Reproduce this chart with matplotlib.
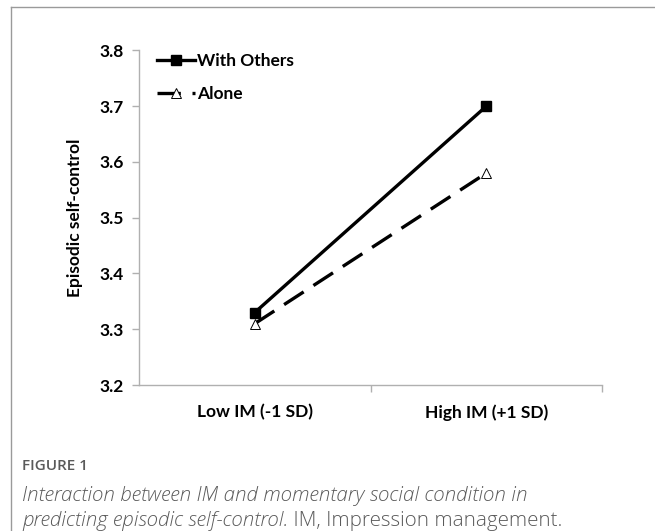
import matplotlib
matplotlib.use("Agg")
import matplotlib.pyplot as plt
from matplotlib.lines import Line2D

categories = ["Low IM (-1 SD)", "High IM (+1 SD)"]
with_others = [3.33, 3.70]
alone = [3.31, 3.58]
y_ticks = [3.2, 3.3, 3.4, 3.5, 3.6, 3.7, 3.8]
series_names = ["With Others", "Alone"]

W, H = 655, 531
fig = plt.figure(figsize=(W / 100, H / 100), dpi=100)
fig.patch.set_facecolor("white")

# outer frame lines (left and top)
fig.add_artist(Line2D([11 / W, 11 / W], [0, 1 - 7 / H], color="#9a9a9a", lw=1.0))
fig.add_artist(Line2D([11 / W, 1], [1 - 7 / H, 1 - 7 / H], color="#9a9a9a", lw=1.0))

ax = fig.add_axes([139 / W, 1 - 385 / H, (602 - 139) / W, (385 - 50.5) / H])
x = list(range(len(categories)))
ax.plot(x, with_others, color="black", lw=2.4, marker="s", markersize=7.5,
        markerfacecolor="black", markeredgecolor="black", label=series_names[0])
ax.plot(x, alone, color="black", lw=2.4, dashes=(7, 3.5), marker="^", markersize=7,
        markerfacecolor="white", markeredgecolor="black", markeredgewidth=0.7,
        label=series_names[1])

ax.set_xlim(-0.5, len(categories) - 0.5)
ax.set_ylim(y_ticks[0], y_ticks[-1])
ax.set_yticks(y_ticks)
ax.set_yticklabels([f"{t:.1f}" for t in y_ticks])
ax.set_xticks(x)
ax.set_xticklabels(categories)
ax.set_xticks([0.5, 1.5], minor=True)

for s in ["top", "right"]:
    ax.spines[s].set_visible(False)
for s in ["left", "bottom"]:
    ax.spines[s].set_color("#b0b0b0")
    ax.spines[s].set_linewidth(1.0)

ax.tick_params(axis="y", direction="out", length=5, width=1, color="#b0b0b0", pad=6,
               labelsize=12.5)
ax.tick_params(axis="x", which="major", length=0, pad=14, labelsize=12.5)
ax.tick_params(axis="x", which="minor", direction="out", length=5, width=1, color="#b0b0b0")
for lab in ax.get_yticklabels() + ax.get_xticklabels():
    lab.set_fontweight("bold")
    lab.set_family("Lato")

ax.set_ylabel("Episodic self-control", fontsize=12.5, fontweight="bold", family="Lato",
              labelpad=12)

leg = ax.legend(loc="upper left", bbox_to_anchor=(0.005, 1.04), frameon=False,
                handlelength=2.2, handletextpad=0.1, labelspacing=1.0,
                prop={"family": "Lato", "weight": "bold", "size": 12.5})

# caption
cap_color = "#5a5a5a"
fig.text(22 / W, 1 - 466 / H, "FIGURE 1", fontsize=11, color=cap_color,
         family="Open Sans", va="center", fontweight="semibold")
fig.text(22 / W, 1 - 496 / H, "Interaction between IM and momentary social condition in",
         fontsize=14.8, color=cap_color, family="Open Sans", style="italic", va="center",
         fontweight="light")
t2 = fig.text(22 / W, 1 - 521 / H, "predicting episodic self-control.",
              fontsize=14.8, color=cap_color, family="Open Sans", style="italic",
              va="center", fontweight="light")
fig.canvas.draw()
bb = t2.get_window_extent(renderer=fig.canvas.get_renderer())
fig.text(bb.x1 / W, 1 - 521 / H, " IM, Impression management.",
         fontsize=14.8, color=cap_color, family="Open Sans", va="center",
         fontweight="light")

fig.savefig("out.png", dpi=100, facecolor="white")
